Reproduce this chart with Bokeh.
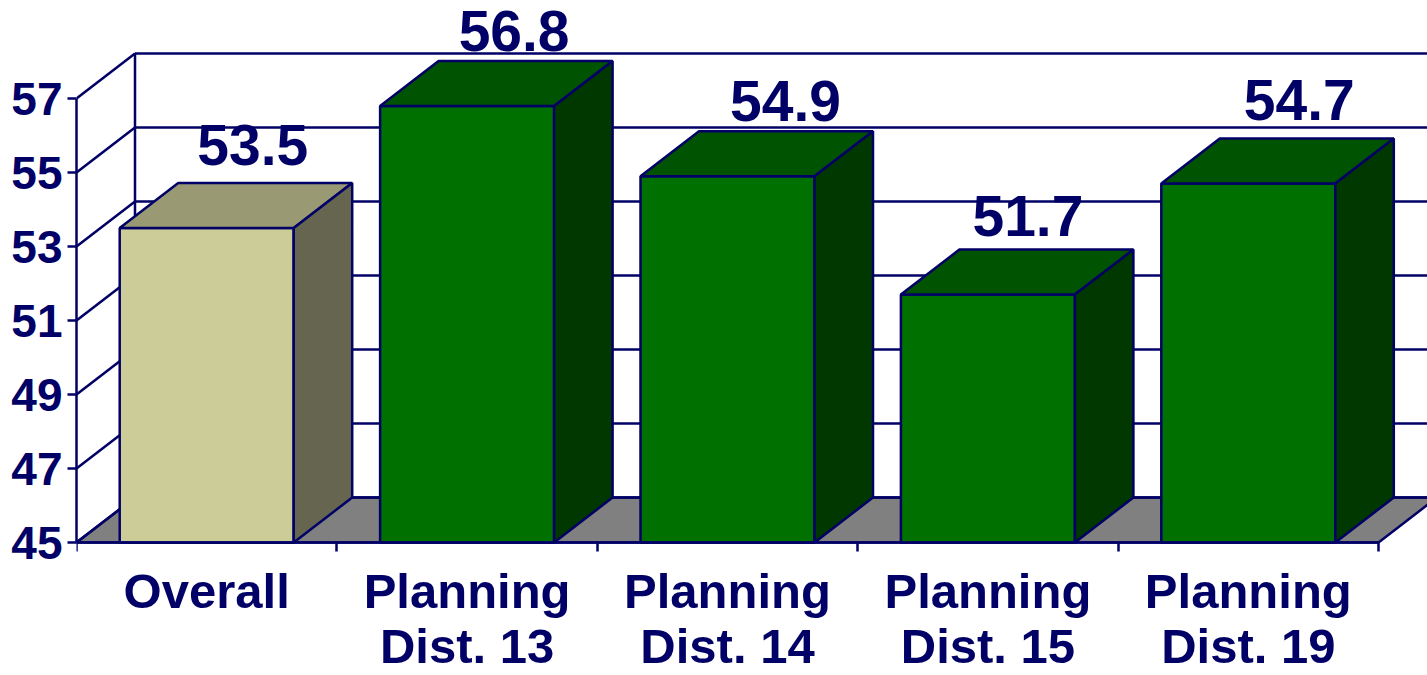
from bokeh.plotting import figure
from bokeh.models import LinearAxis, FixedTicker, Range1d
from bokeh.core.properties import value
from bokeh.embed import file_html
from bokeh.resources import INLINE

# ---- data
line_one = ["Overall", "Planning", "Planning", "Planning", "Planning"]
line_two = ["", "Dist. 13", "Dist. 14", "Dist. 15", "Dist. 19"]
scores = [53.5, 56.8, 54.9, 51.7, 54.7]
y_ticks = [45, 47, 49, 51, 53, 55, 57]

# ---- style / geometry (pixels of the picture)
NAVY = "#000066"
LW = 2.5
FRONT = ["#CCCC99", "#007000", "#007000", "#007000", "#007000"]
TOP = ["#999973", "#005300", "#005300", "#005300", "#005300"]
SIDE = ["#666650", "#003800", "#003800", "#003800", "#003800"]
FONT = value("Liberation Sans")
W, H = 1427, 675
PX_X, PX_Y = 260.4, 37.0
LEFT_PX, BASE_PX = 76, 542
DX, DY = 58.5 / PX_X, 45 / PX_Y
BAR = 174 / PX_X
SHIFT = 0.37                          # text sits this many ems low in the svg output
CAT_SIZE = 49
label_dx = [46, 47, 58, 40, 51]       # label centre right of the bar centre
label_lift = [17, 9, 9, 13, 18]       # baseline above the bar's back edge

p = figure(width=W, height=H, output_backend="svg", toolbar_location=None,
           x_range=Range1d(0, (W - LEFT_PX) / PX_X),
           y_range=Range1d(45 - (H - BASE_PX) / PX_Y, 45 + BASE_PX / PX_Y),
           x_axis_type=None, y_axis_type=None,
           min_border_left=LEFT_PX, min_border_right=0,
           min_border_top=0, min_border_bottom=0,
           outline_line_color=None, background_fill_color="white")
p.grid.visible = False

ends = (W - LEFT_PX) / PX_X + 1

# floor
p.patch([0, 5, 5 + DX, DX], [45, 45, 45 + DY, 45 + DY], fill_color="#808080",
        line_color=NAVY, line_width=LW)
p.line([5 + DX, ends], [45 + DY, 45 + DY], line_color=NAVY, line_width=LW)

# back wall
p.multi_line([[DX, ends] for _ in y_ticks], [[t + DY, t + DY] for t in y_ticks],
             line_color=NAVY, line_width=LW)
p.multi_line([[0, DX] for _ in y_ticks], [[t, t + DY] for t in y_ticks],
             line_color=NAVY, line_width=LW)
p.line([DX, DX], [45 + DY, 57 + DY], line_color=NAVY, line_width=LW)

# bars
for i, s in enumerate(scores):
    l, r = i + 0.5 - BAR / 2, i + 0.5 + BAR / 2
    p.patch([l, r, r, l], [45, 45, s, s], fill_color=FRONT[i], line_color=NAVY, line_width=LW)
    p.patch([l, r, r + DX, l + DX], [s, s, s + DY, s + DY], fill_color=TOP[i],
            line_color=NAVY, line_width=LW)
    p.patch([r, r + DX, r + DX, r], [45, 45 + DY, s + DY, s], fill_color=SIDE[i],
            line_color=NAVY, line_width=LW)

# value labels
p.text([i + 0.5 + label_dx[i] / PX_X for i in range(5)],
       [s + DY + (label_lift[i] + SHIFT * 57) / PX_Y for i, s in enumerate(scores)],
       text=[f"{s:.1f}" for s in scores], text_font=FONT, text_font_style="bold",
       text_font_size="57px", text_color=NAVY, text_align="center",
       text_baseline="alphabetic")

# category labels
p.text([i + 0.5 for i in range(5)], [45 - (67 - SHIFT * CAT_SIZE) / PX_Y] * 5, text=line_one, text_font=FONT,
       text_font_style="bold", text_font_size=f"{CAT_SIZE}px", text_color=NAVY,
       text_align="center", text_baseline="alphabetic")
p.text([i + 0.5 for i in range(5)], [45 - (122 - SHIFT * CAT_SIZE) / PX_Y] * 5, text=line_two, text_font=FONT,
       text_font_style="bold", text_font_size=f"{CAT_SIZE}px", text_color=NAVY,
       text_align="center", text_baseline="alphabetic")

# axes
yax = LinearAxis(ticker=FixedTicker(ticks=y_ticks), bounds=(45, 57),
                 axis_line_color=NAVY, axis_line_width=LW,
                 major_tick_line_color=NAVY, major_tick_line_width=LW,
                 major_tick_in=0, major_tick_out=9, minor_tick_line_color=None,
                 major_label_text_color=NAVY, major_label_text_font="Liberation Sans",
                 major_label_text_font_style="bold", major_label_text_font_size="46px",
                 major_label_standoff=5)
p.add_layout(yax, "left")

xax = LinearAxis(fixed_location=45, ticker=FixedTicker(ticks=[0, 1, 2, 3, 4, 5]), bounds=(0, 5),
                 axis_line_color=NAVY, axis_line_width=LW,
                 major_tick_line_color=NAVY, major_tick_line_width=LW,
                 major_tick_in=0, major_tick_out=9, minor_tick_line_color=None,
                 major_label_text_color=None, major_label_text_font_size="1px")
p.add_layout(xax, "below")

open("out.html", "w").write(file_html(p, INLINE))
